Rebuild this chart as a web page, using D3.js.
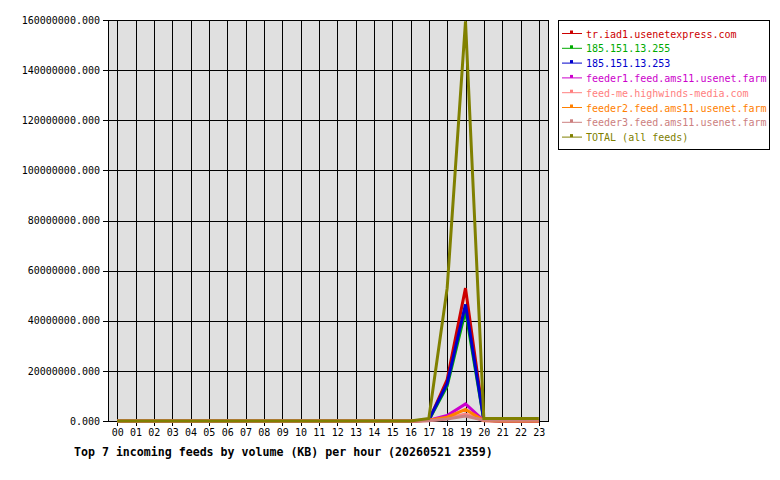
<!DOCTYPE html>
<html>
<head>
<meta charset="utf-8">
<script src="https://cdn.jsdelivr.net/npm/d3@7"></script>
<style>
  body { margin: 0; background: #fff; }
  svg { display: block; }
  text { font-family: "DejaVu Sans Mono", "Liberation Mono", monospace; }
</style>
</head>
<body>
<div id="chart"></div>
<script>
// hours on the x axis
const hours = d3.range(24).map(h => (h < 10 ? "0" : "") + h);

const feedNames = [
  "tr.iad1.usenetexpress.com",
  "185.151.13.255",
  "185.151.13.253",
  "feeder1.feed.ams11.usenet.farm",
  "feed-me.highwinds-media.com",
  "feeder2.feed.ams11.usenet.farm",
  "feeder3.feed.ams11.usenet.farm",
  "TOTAL (all feeds)"
];
const feedColors = ["#cc0000", "#00aa00", "#0000cc", "#cc00cc", "#ff8080", "#ff8000", "#cc8080", "#808000"];

const zeros17 = new Array(17).fill(0);
// values in KB per hour
const usenetexpress = zeros17.concat([200000, 16500000, 53000000, 300000, 0, 0, 0]);
const ip255 = zeros17.concat([300000, 14000000, 44000000, 300000, 0, 0, 0]);
const ip253 = zeros17.concat([500000, 15000000, 46500000, 400000, 0, 0, 0]);
const feeder1 = zeros17.concat([300000, 2200000, 6800000, 200000, 0, 0, 0]);
const highwinds = zeros17.concat([200000, 1000000, 2800000, 100000, 0, 0, 0]);
const feeder2 = zeros17.concat([300000, 1500000, 4600000, 200000, 0, 0, 0]);
const feeder3 = zeros17.concat([100000, 800000, 2000000, 300000, 300000, 300000, 300000]);
const total = zeros17.concat([1000000, 53000000, 159500000, 1000000, 1000000, 1000000, 1000000]);

const series = [usenetexpress, ip255, ip253, feeder1, highwinds, feeder2, feeder3, total];
const yTicks = d3.range(0, 160000001, 20000000);
const title = "Top 7 incoming feeds by volume (KB) per hour (20260521 2359)";

const width = 780, height = 480;
const plot = { left: 108, right: 548, top: 20, bottom: 421 };

const svg = d3.select("#chart").append("svg")
  .attr("width", width).attr("height", height);

const x = d3.scalePoint().domain(hours).range([plot.left, plot.right]).padding(0.5);
const y = d3.scaleLinear().domain([0, 160000000]).range([plot.bottom, plot.top]);

svg.append("rect")
  .attr("x", plot.left).attr("y", plot.top)
  .attr("width", plot.right - plot.left).attr("height", plot.bottom - plot.top)
  .attr("fill", "#e0e0e0");

// grid
const grid = svg.append("g").attr("stroke", "#000").attr("stroke-width", 1).attr("shape-rendering", "crispEdges");
grid.selectAll(".vg").data(hours).join("line")
  .attr("x1", d => Math.round(x(d)) + 0.5).attr("x2", d => Math.round(x(d)) + 0.5)
  .attr("y1", plot.top).attr("y2", plot.bottom + 5);
grid.selectAll(".hg").data(yTicks).join("line")
  .attr("x1", plot.left - 5).attr("x2", plot.right)
  .attr("y1", d => Math.round(y(d)) + 0.5).attr("y2", d => Math.round(y(d)) + 0.5);
grid.append("rect")
  .attr("x", plot.left + 0.5).attr("y", plot.top + 0.5)
  .attr("width", plot.right - plot.left).attr("height", plot.bottom - plot.top)
  .attr("fill", "none");

// axes labels
const xAxis = d3.axisBottom(x).tickSize(0).tickPadding(8);
svg.append("g").attr("transform", `translate(0,${plot.bottom})`).call(xAxis)
  .call(g => g.select(".domain").remove())
  .call(g => g.selectAll("text").attr("font-size", 10).attr("fill", "#000")
    .attr("font-family", "DejaVu Sans Mono"));

const yAxis = d3.axisLeft(y).tickValues(yTicks).tickFormat(d3.format(".3f")).tickSize(0).tickPadding(8);
svg.append("g").attr("transform", `translate(${plot.left},0)`).call(yAxis)
  .call(g => g.select(".domain").remove())
  .call(g => g.selectAll("text").attr("font-size", 10).attr("fill", "#000")
    .attr("font-family", "DejaVu Sans Mono"));

// lines
const line = d3.line().x((d, i) => x(hours[i])).y(d => y(d));
svg.append("g").selectAll("path").data(series).join("path")
  .attr("d", line)
  .attr("fill", "none")
  .attr("stroke", (d, i) => feedColors[i])
  .attr("stroke-width", 3)
  .attr("stroke-linejoin", "miter");

// title
svg.append("text")
  .attr("x", 74).attr("y", 456)
  .attr("font-size", 11.6).attr("font-weight", "bold")
  .text(title);

// legend
const legend = svg.append("g");
legend.append("rect")
  .attr("x", 558.5).attr("y", 20.5).attr("width", 211).attr("height", 129)
  .attr("fill", "#fff").attr("stroke", "#000");
const rows = legend.selectAll(".row").data(feedNames).join("g")
  .attr("transform", (d, i) => `translate(0,${33.5 + i * 14.8})`);
rows.append("line")
  .attr("x1", 562).attr("x2", 582).attr("y1", 0).attr("y2", 0)
  .attr("stroke", (d, i) => feedColors[i]);
rows.append("rect")
  .attr("x", 570.5).attr("y", -2.5).attr("width", 2).attr("height", 2)
  .attr("fill", "none").attr("stroke", (d, i) => feedColors[i]);
rows.append("text")
  .attr("x", 586).attr("y", 4)
  .attr("font-size", 10)
  .attr("fill", (d, i) => feedColors[i])
  .text(d => d);
</script>
</body>
</html>
